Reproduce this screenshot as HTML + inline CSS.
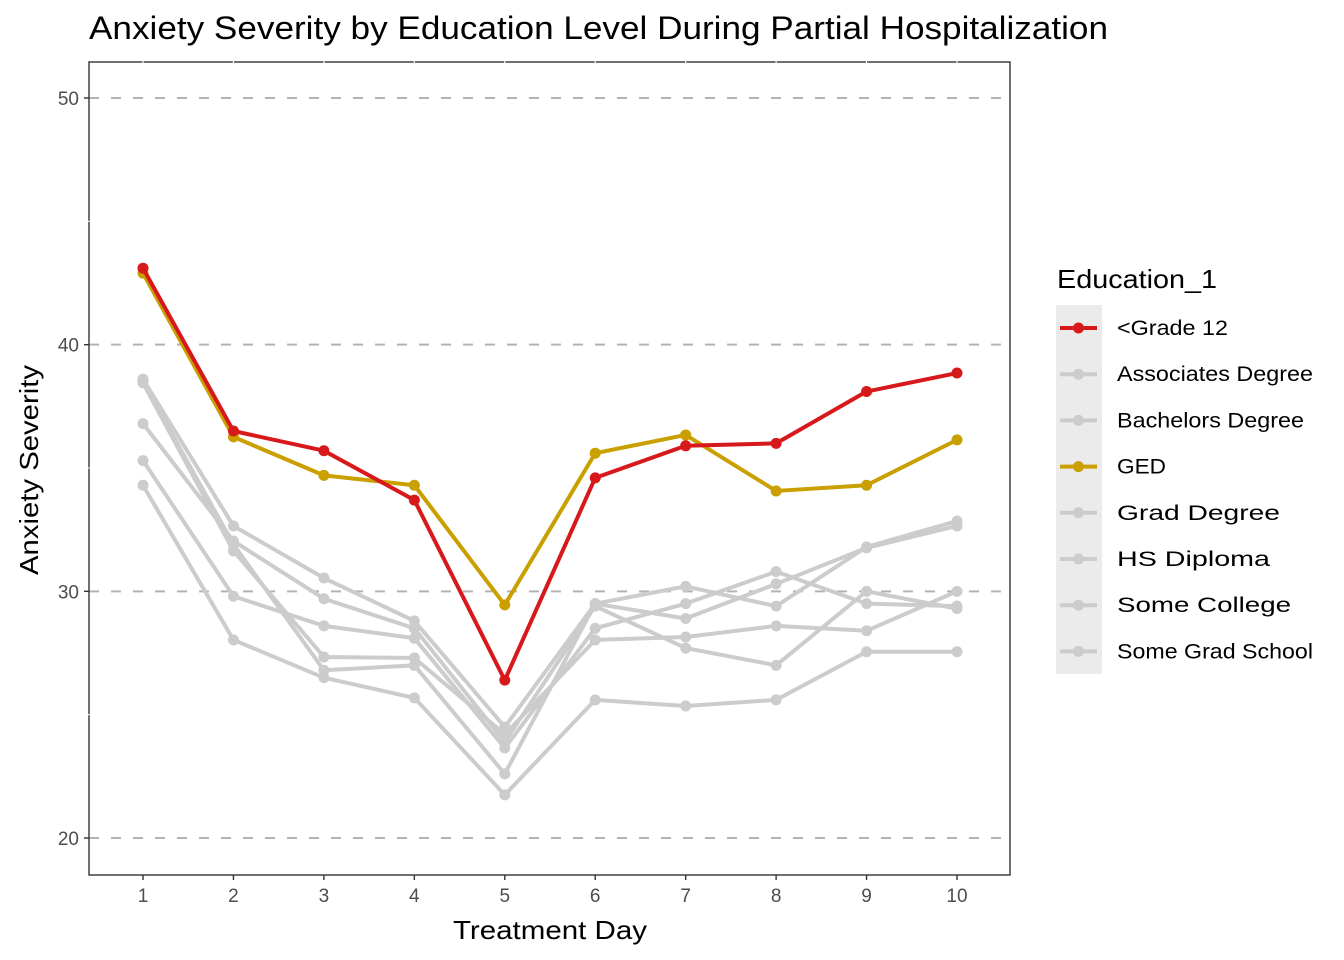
<!DOCTYPE html>
<html><head><meta charset="utf-8"><style>
body{margin:0;background:#fff;}
svg{display:block;font-family:"Liberation Sans",Arial,sans-serif;}
</style></head><body>
<svg id="chart" width="1344" height="960" viewBox="0 0 1344 960">
<text x="89" y="39" font-size="32" textLength="1019" lengthAdjust="spacingAndGlyphs" fill="#000">Anxiety Severity by Education Level During Partial Hospitalization</text>
<g id="grid"></g>
<g id="series"></g>
<rect x="89" y="62" width="921" height="813" fill="none" stroke="#333" stroke-width="1.4"/>
<g id="vgrid"></g>
<g id="axes"></g>
<text x="550" y="939" font-size="26" textLength="194" lengthAdjust="spacingAndGlyphs" text-anchor="middle">Treatment Day</text>
<text transform="translate(38,470) rotate(-90)" font-size="26" textLength="210" lengthAdjust="spacingAndGlyphs" text-anchor="middle">Anxiety Severity</text>
<text x="1057" y="288" font-size="26" textLength="160" lengthAdjust="spacingAndGlyphs">Education_1</text>
<rect x="1056" y="305" width="46" height="369" fill="#ebebeb"/>
<g id="legend"></g>
</svg>
<script>
const days=[1,2,3,4,5,6,7,8,9,10];
const seriesNames=["<Grade 12","Associates Degree","Bachelors Degree","GED","Grad Degree","HS Diploma","Some College","Some Grad School"];
const grade12=[43.1,36.5,35.7,33.7,26.4,34.6,35.9,36.0,38.1,38.85];
const associates=[38.6,32.65,30.54,28.8,24.5,29.5,30.2,29.4,31.8,32.85];
const bachelors=[38.45,31.64,27.34,27.3,24.2,28.03,28.15,28.6,28.4,30.0];
const ged=[42.9,36.26,34.7,34.3,29.45,35.6,36.34,34.07,34.3,36.14];
const gradDegree=[36.8,32.04,29.7,28.5,23.9,29.4,27.7,27.0,30.0,29.3];
const hsDiploma=[35.3,29.8,28.6,28.1,23.65,28.5,29.5,30.8,29.5,29.4];
const someCollege=[34.3,28.03,26.5,25.68,21.75,25.6,25.35,25.6,27.55,27.55];
const someGrad=[38.5,31.9,26.8,27.0,22.6,29.5,28.9,30.3,31.76,32.65];
const yTicks=[20,30,40,50];
const seriesValues=[grade12,associates,bachelors,ged,gradDegree,hsDiploma,someCollege,someGrad];
const colors=["#d7191c","#cccccc","#cccccc","#c9a000","#cccccc","#cccccc","#cccccc","#cccccc"];
const legendWidths=[111,196,187,49,163,153,174,196];
const NS="http://www.w3.org/2000/svg";
const xs=d=>143+(d-1)*(957-143)/9;
const ys=v=>838-(v-20)*(838-98)/30;
function mk(parent,tag,attrs){const e=document.createElementNS(NS,tag);for(const k in attrs)e.setAttribute(k,attrs[k]);document.getElementById(parent).appendChild(e);return e;}
yTicks.forEach(t=>{
  const l=mk('grid','line',{x1:89,x2:1010,y1:ys(t),y2:ys(t),stroke:'#b3b3b3','stroke-width':2,'stroke-dasharray':'10 12'});
  
  
  const tk=mk('axes','line',{x1:84,x2:89,y1:ys(t),y2:ys(t),stroke:'#333','stroke-width':1.4});
  
  
  const tx=mk('axes','text',{x:79,y:ys(t)+7,'font-size':19,fill:'#4d4d4d','text-anchor':'end'});
  tx.textContent=t;
  
  
});
[25,35,45].forEach(t=>{
  const l=mk('vgrid','line',{x1:88,x2:90,y1:ys(t),y2:ys(t),stroke:'#fff','stroke-width':1});
  
  
});
days.forEach(d=>{
  const l=mk('vgrid','line',{x1:xs(d),x2:xs(d),y1:61,y2:63,stroke:'#fff','stroke-width':1.2});
  
  
  const tk=mk('axes','line',{x1:xs(d),x2:xs(d),y1:875,y2:880,stroke:'#333','stroke-width':1.4});
  
  
  const tx=mk('axes','text',{x:xs(d),y:902,'font-size':19,fill:'#4d4d4d','text-anchor':'middle'});
  tx.textContent=d;
  
  
});
const order=[1,2,4,5,6,7,3,0];
order.forEach(i=>{
  const vals=seriesValues[i];
  const p=mk('series','polyline',{points:vals.map((v,j)=>xs(days[j])+','+ys(v)).join(' '),fill:'none',stroke:colors[i],'stroke-width':4,'stroke-linejoin':'round'});
  
  
  vals.forEach((v,j)=>{
    const c=mk('series','circle',{cx:xs(days[j]),cy:ys(v),r:5.5,fill:colors[i]});
    
    
  });
});
seriesNames.forEach((n,i)=>{
  const y=328+i*46.2;
  const l=mk('legend','line',{x1:1060,x2:1097,y1:y,y2:y,stroke:colors[i],'stroke-width':4});
  
  
  const c=mk('legend','circle',{cx:1078.5,cy:y,r:5.5,fill:colors[i]});
  
  
  const t=mk('legend','text',{x:1117,y:y+7,'font-size':21,fill:'#000',textLength:legendWidths[i],lengthAdjust:'spacingAndGlyphs'});
  t.textContent=n;
  
  
});
</script>
</body></html>
